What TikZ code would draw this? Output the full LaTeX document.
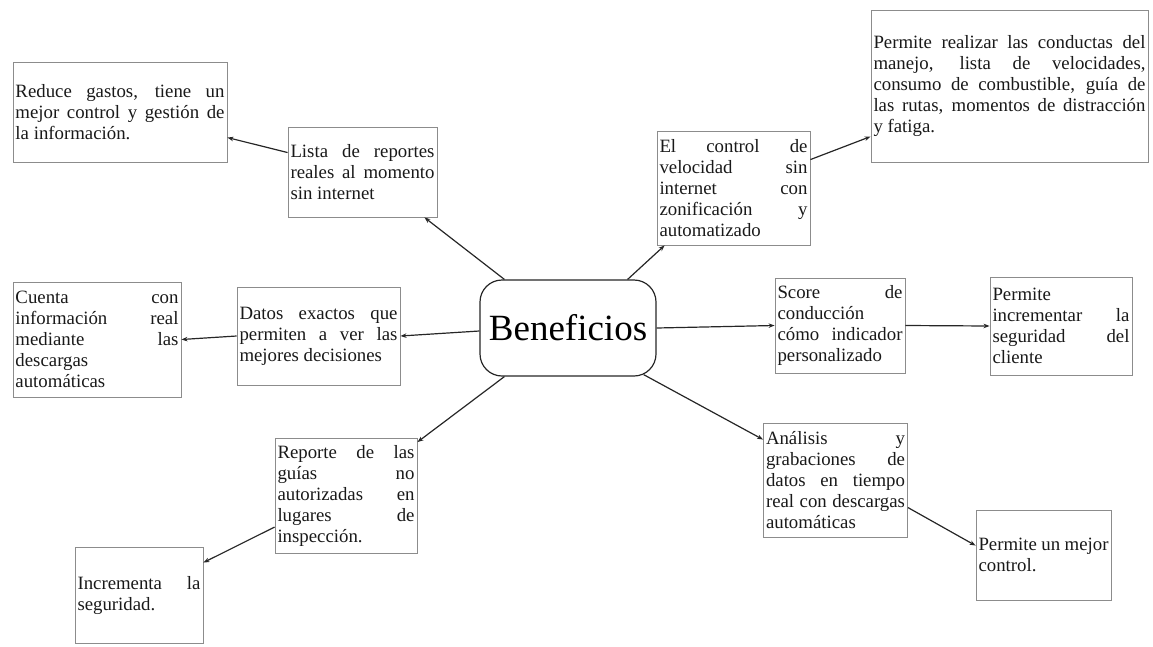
\documentclass[tikz,border=0pt]{standalone}
\usepackage{fontspec}
\setmainfont{Liberation Serif}
\usetikzlibrary{arrows.meta}
\newcommand{\jl}[1]{\hbox to\hsize{#1}}
\newcommand{\nl}[1]{\hbox{#1}}
\newcommand{\blk}[2]{\vbox{\hsize=#1\relax #2}}
\begin{document}
\begin{tikzpicture}[x=1pt,y=-1pt,
  box/.style={draw=black!45, line width=0.9pt, inner xsep=2.5pt, inner ysep=0pt,
              font=\fontsize{18.8}{21}\selectfont, text=black!90},
  bene/.style={draw=black!85, line width=1.2pt, rounded corners=22pt,
              minimum width=176pt, minimum height=96pt, inner sep=0pt,
              font=\fontsize{37}{40}\selectfont},
  arr/.style={draw=black!85, line width=1.2pt, -{Stealth[length=6pt,width=4.5pt]}}]
\useasboundingbox (0,0) rectangle (1153,646);

\node[bene] (benef) at (568,328) {Beneficios};

\node[box, minimum width=214pt, minimum height=100pt] (reduce) at (120,112)
  {\blk{209pt}{\jl{Reduce gastos, tiene un}\jl{mejor control y gestión de}\nl{la información.}}};
\node[box, minimum width=149pt, minimum height=90pt] (lista) at (362.5,172)
  {\blk{144pt}{\jl{Lista de reportes}\jl{reales al momento}\nl{sin internet}}};
\node[box, minimum width=153pt, minimum height=114pt] (control) at (733.5,188)
  {\blk{148pt}{\jl{El control de}\jl{velocidad sin}\jl{internet con}\jl{zonificación y}\nl{automatizado}}};
\node[box, minimum width=277pt, minimum height=152pt] (conductas) at (1009.5,86)
  {\blk{272pt}{\jl{Permite realizar las conductas del}\jl{manejo, lista de velocidades,}\jl{consumo de combustible, guía de}\jl{las rutas, momentos de distracción}\nl{y fatiga.}}};
\node[box, minimum width=168pt, minimum height=115pt] (cuenta) at (97,339.5)
  {\blk{163pt}{\jl{Cuenta con}\jl{información real}\jl{mediante las}\nl{descargas}\nl{automáticas}}};
\node[box, minimum width=163pt, minimum height=98pt] (datos) at (318.5,336)
  {\blk{158pt}{\jl{Datos exactos que}\jl{permiten a ver las}\nl{mejores decisiones}}};
\node[box, minimum width=130pt, minimum height=95pt] (score) at (840,325.5)
  {\blk{125pt}{\jl{Score de}\nl{conducción}\jl{cómo indicador}\nl{personalizado}}};
\node[box, minimum width=142pt, minimum height=98pt] (incrcli) at (1061,326)
  {\blk{137pt}{\nl{Permite}\jl{incrementar la}\jl{seguridad del}\nl{cliente}}};
\node[box, minimum width=142pt, minimum height=115pt] (reporte) at (346,496)
  {\blk{137pt}{\jl{Reporte de las}\jl{guías no}\jl{autorizadas en}\jl{lugares de}\nl{inspección.}}};
\node[box, minimum width=128pt, minimum height=96pt] (increm) at (139,595)
  {\blk{123pt}{\jl{Incrementa la}\nl{seguridad.}}};
\node[box, minimum width=144pt, minimum height=114pt] (analisis) at (835.5,480)
  {\blk{139pt}{\jl{Análisis y}\jl{grabaciones de}\jl{datos en tiempo}\jl{real con descargas}\nl{automáticas}}};
\node[box, minimum width=135pt, minimum height=90pt] (mejor) at (1043.5,555)
  {\blk{130pt}{\jl{Permite un mejor}\nl{control.}}};

\draw[arr] ([xshift=25pt]benef.north west) -- ([xshift=-13pt]lista.south east);
\draw[arr] ([xshift=-29pt]benef.north east) -- ([xshift=8pt]control.south west);
\draw[arr] ([yshift=-3pt]benef.west) -- (datos.east);
\draw[arr] (benef.east) -- (score.west);
\draw[arr] ([xshift=25pt]benef.south west) -- ([yshift=-4pt]reporte.north east);
\draw[arr] ([xshift=-13pt,yshift=2pt]benef.south east) -- ([yshift=-17pt]analisis.north west);
\draw[arr] ([yshift=-26pt]lista.north west) -- ([yshift=-76pt]reduce.north east);
\draw[arr] ([yshift=-29pt]control.north east) -- ([yshift=-127pt]conductas.north west);
\draw[arr] (datos.west) -- (cuenta.east);
\draw[arr] (score.east) -- (incrcli.west);
\draw[arr] ([yshift=-89pt]reporte.north west) -- ([yshift=-16pt]increm.north east);
\draw[arr] ([yshift=-85pt]analisis.north east) -- ([yshift=-36pt]mejor.north west);
\end{tikzpicture}
\end{document}
